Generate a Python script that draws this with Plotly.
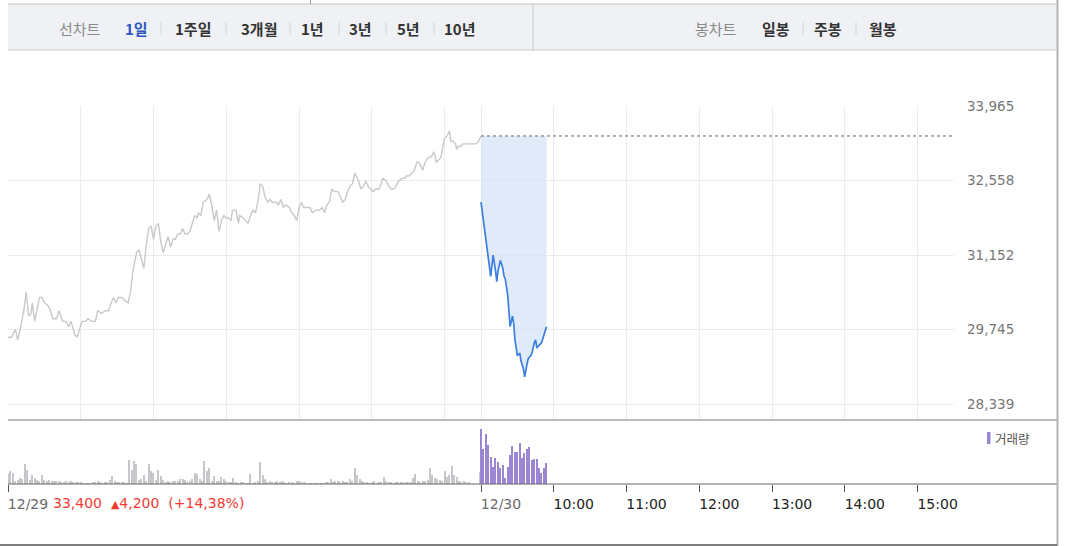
import plotly.graph_objects as go

# ---------------- data ----------------
# 12/29 intraday price (minutes after 09:00, price in KRW)
d1_min = [0, 3, 6, 8, 10, 13, 15, 17, 19, 20, 22, 24, 26, 28, 30, 33, 35, 37, 40, 42,
          45, 48, 50, 52, 53, 55, 57, 59, 61, 64, 66, 69, 72, 74, 77, 80, 83, 85, 87, 89,
          91, 94, 96, 99, 101, 103, 106, 108, 110, 112, 114, 116, 118, 120, 122, 124, 126, 128, 130, 132,
          134, 136, 138, 140, 142, 144, 146, 148, 150, 152, 154, 156, 157, 159, 161, 164, 166, 168, 170, 171,
          172, 174, 176, 178, 180, 182, 184, 185, 188, 190, 191, 194, 196, 198, 200, 202, 204, 206, 208, 210,
          212, 214, 216, 218, 221, 223, 225, 227, 229, 232, 234, 236, 238, 240, 242, 244, 246, 249, 251, 254,
          257, 259, 261, 263, 265, 267, 269, 272, 274, 276, 278, 280, 282, 284, 286, 287, 289, 291, 293, 295,
          297, 299, 301, 303, 306, 307, 309, 312, 314, 316, 318, 320, 322, 325, 327, 329, 331, 333, 335, 337,
          339, 340, 342, 343, 345, 347, 349, 351, 352, 353, 355, 357, 359, 360, 362, 364, 365, 367, 369, 370,
          371, 373, 375, 377, 380, 383, 386, 388, 390]
d1_price = [29600, 29600, 29750, 29550, 29750, 30100, 30450, 30000, 30050, 30250, 29900, 30150, 30350, 30350, 30250, 30200, 30100, 29950, 29950, 30100,
            29900, 29900, 29800, 29900, 29800, 29650, 29600, 29750, 29900, 29900, 29950, 29900, 29900, 30100, 30050, 30100, 30100, 30250, 30350, 30250,
            30350, 30350, 30300, 30250, 30450, 30850, 31200, 31250, 31050, 30900, 31350, 31650, 31700, 31450, 31700, 31750, 31400, 31200, 31350, 31500,
            31300, 31450, 31450, 31550, 31550, 31650, 31550, 31550, 31600, 31750, 31900, 31850, 31950, 31900, 32150, 32200, 32300, 32100, 31800, 31900,
            32000, 31600, 31800, 31900, 31850, 31850, 31800, 32000, 32000, 31750, 31900, 31850, 31800, 31750, 31900, 32000, 31950, 32150, 32500, 32450,
            32250, 32150, 32200, 32150, 32150, 32100, 32200, 32050, 32100, 32050, 31950, 31900, 31800, 32050, 32150, 32050, 32050, 32050, 31950, 32000,
            32000, 32050, 31950, 32100, 32150, 32400, 32350, 32350, 32250, 32150, 32200, 32350, 32450, 32500, 32700, 32650, 32550, 32400, 32450, 32550,
            32450, 32400, 32350, 32400, 32400, 32450, 32600, 32550, 32450, 32400, 32400, 32450, 32550, 32600, 32600, 32650, 32650, 32700, 32750, 32900,
            32900, 32850, 32750, 32850, 32950, 33000, 33000, 33100, 33050, 32900, 32950, 33000, 33250, 33350, 33400, 33500, 33300, 33300, 33250, 33150,
            33200, 33200, 33250, 33250, 33250, 33250, 33250, 33300, 33400]

# 12/30 intraday price (minutes after 09:00)
d2_min = [0, 2, 3, 4, 6, 8, 9, 10, 12, 13, 14, 16, 18, 19, 20, 22, 23, 24, 26, 27,
          28, 30, 32, 33, 35, 36, 38, 39, 41, 42, 44, 45, 46, 48, 50, 52, 54]
d2_price = [32150, 31800, 31550, 31350, 31050, 30750, 30950, 31150, 30850, 30650, 30850, 31050, 30900, 30750, 30700, 30400, 30100, 29800, 30000, 29850,
            29550, 29250, 29300, 29150, 29000, 28850, 29100, 29200, 29250, 29300, 29500, 29550, 29400, 29450, 29500, 29650, 29800]

prev_close = 33400
change = 4200
change_pct = "14,38"

# volume (thousand shares), 12/29 in 2-minute buckets + closing auction
vol_d1_min = list(range(0, 382, 2))
vol_d1 = [10, 12.7, 11, 3.3, 4.3, 6, 5.3, 20, 14.3, 4.3,
          8.7, 6, 4.3, 3.3, 9.3, 4.3, 3.3, 4.3, 3.3, 2.7,
          3.3, 2.7, 2.3, 2, 2.7, 2, 2.7, 1.7, 2, 2.3,
          2, 0.7, 1, 1, 1, 1.7, 1.3, 3.3, 1.3, 1,
          1.3, 1.7, 4.3, 8.3, 3.3, 2, 1.7, 1.3, 1.7, 1,
          24.3, 14.3, 22.7, 20, 4.3, 5.3, 9.3, 3.3, 20, 12.7,
          11, 4.3, 14.3, 7.7, 4.3, 2, 2.7, 1.7, 2.7, 3.3,
          3.3, 5.3, 5.3, 4.3, 2, 3.3, 5.3, 11, 10, 5.3,
          3.3, 22.7, 12.7, 16, 2.7, 7.7, 3.3, 3.3, 6.7, 5.3,
          3.3, 2, 2, 6, 1.3, 1, 1.3, 1.3, 1, 1,
          10, 1, 2, 2.7, 22, 9.3, 5.3, 2, 2.7, 1.3,
          1.7, 3.3, 1.7, 3.3, 2, 1, 2, 1.3, 1, 3.3,
          2.7, 2, 1.3, 0.7, 0.7, 0.7, 1, 0.7, 1, 0.7,
          1, 1.7, 2, 5.3, 2, 2.7, 2.7, 2, 2.7, 1.3,
          1.3, 5.3, 3.3, 16, 8.7, 5.3, 3.3, 2, 1.3, 1,
          1.7, 2.7, 1, 2, 2, 6.7, 2.7, 2, 1.7, 1,
          1.3, 2, 2, 1.3, 2, 2.3, 2, 6, 10, 2.7,
          2, 3.3, 2.7, 4.3, 16, 9.3, 6, 5.3, 4.3, 2.7,
          12.7, 6.7, 9.3, 17.7, 9.3, 6.7, 3.3, 2, 2.7, 2,
          2.3]
close_auction_min = 389
close_auction_vol = 12

vol_d2_min = list(range(0, 56, 2))
vol_d2 = [55, 35, 50, 39, 27, 17, 26, 22, 16, 19, 6, 17, 29, 38, 32, 32, 41, 26, 31, 35,
          37, 24, 25, 25, 16, 11, 16, 21]

y_ticks = [28339, 29745, 31152, 32558, 33965]
x_tick_min = [0, 390, 450, 510, 570, 630, 690, 750]
x_tick_text = ["12/29", "12/30", "10:00", "11:00", "12:00", "13:00", "14:00", "15:00"]
grid_min = [0, 60, 120, 180, 240, 300, 360, 390, 450, 510, 570, 630, 690, 750]
DAY = 390  # trading minutes per day

top_left_items = ["1일", "1주일", "3개월", "1년", "3년", "5년", "10년"]
top_right_items = ["일봉", "주봉", "월봉"]

# ---------------- layout helpers ----------------
W, H = 1071, 546
L, R, T, B = 8, 117, 106, 62
PW, PH = W - L - R, H - T - B


def px(x):
    return (x - L) / PW


def py(y):
    return (H - B - y) / PH


VOL_FRAC = py(420)
NUM_FONT = "DejaVu Sans"
KR_FONT = "Noto Sans CJK KR"

fig = go.Figure()

fig.add_trace(go.Scatter(x=d1_min, y=d1_price, mode="lines",
                         line=dict(color="#c8c8cd", width=1.4), hoverinfo="skip",
                         xaxis="x", yaxis="y"))
fig.add_trace(go.Scatter(x=[DAY + d2_min[0], DAY + d2_min[-1]], y=[prev_close, prev_close],
                         mode="lines", line=dict(width=0), hoverinfo="skip",
                         xaxis="x", yaxis="y"))
fig.add_trace(go.Scatter(x=[DAY + m for m in d2_min], y=d2_price, mode="lines",
                         line=dict(color="#3d7fdf", width=1.7), fill="tonexty",
                         fillcolor="rgba(214,227,246,0.75)", hoverinfo="skip",
                         xaxis="x", yaxis="y"))
fig.add_trace(go.Scatter(x=[DAY, 2 * DAY], y=[prev_close, prev_close], mode="lines",
                         line=dict(color="#666666", width=1, dash="dot"), hoverinfo="skip",
                         xaxis="x", yaxis="y"))

fig.add_trace(go.Bar(x=vol_d1_min + [close_auction_min], y=vol_d1 + [close_auction_vol],
                     width=1.0, marker=dict(color="#c6c6cb", line=dict(width=0)),
                     hoverinfo="skip", xaxis="x2", yaxis="y2"))
fig.add_trace(go.Bar(x=[DAY + m for m in vol_d2_min], y=vol_d2,
                     width=1.1, marker=dict(color="#9a86d2", line=dict(width=0)),
                     hoverinfo="skip", xaxis="x2", yaxis="y2"))

tick_text_html = [f'<span style="color:#6a6a6a">{t}</span>' if "/" in t else t for t in x_tick_text]

fig.update_layout(
    width=W, height=H,
    margin=dict(l=L, r=R, t=T, b=B, pad=0),
    paper_bgcolor="white", plot_bgcolor="white",
    showlegend=False, barmode="overlay", bargap=0,
    xaxis=dict(domain=[0, 1], anchor="y", range=[0, 2 * DAY], tickvals=grid_min,
               showticklabels=False, showgrid=True, gridcolor="#ececec", gridwidth=1,
               zeroline=False, showline=False, ticks=""),
    yaxis=dict(domain=[VOL_FRAC, 1], anchor="x", side="right",
               range=[28037, 33966], tickvals=y_ticks,
               ticktext=[f"{v:,}" for v in y_ticks],
               tickfont=dict(family=NUM_FONT, size=13.5, color="#777777"),
               ticklabelstandoff=12,
               showgrid=True, gridcolor="#ececec", gridwidth=1,
               zeroline=False, showline=False, ticks=""),
    xaxis2=dict(domain=[0, 1], anchor="y2", range=[0, 2 * DAY], tickvals=x_tick_min,
                ticktext=tick_text_html, ticks="outside", ticklen=7, tickwidth=1,
                tickcolor="#555555", tickfont=dict(family=NUM_FONT, size=14, color="#222222"),
                ticklabelshift=20, ticklabelstandoff=0,
                showgrid=False, zeroline=False, showline=False),
    yaxis2=dict(domain=[0, VOL_FRAC], anchor="x2", range=[0, 64], visible=False,
                showgrid=False, zeroline=False),
)

shapes = []
# panel lines
shapes.append(dict(type="line", xref="paper", yref="paper", x0=px(8), x1=px(1057),
                   y0=py(420), y1=py(420), line=dict(color="#a6a6a6", width=1.5)))
shapes.append(dict(type="line", xref="paper", yref="paper", x0=px(8), x1=px(1057),
                   y0=py(484), y1=py(484), line=dict(color="#666666", width=1)))
# page borders
shapes.append(dict(type="line", xref="paper", yref="paper", x0=px(1057.5), x1=px(1057.5),
                   y0=py(0), y1=py(546), line=dict(color="#b4b4b4", width=2)))
shapes.append(dict(type="line", xref="paper", yref="paper", x0=px(0), x1=px(1057),
                   y0=py(545), y1=py(545), line=dict(color="#555555", width=1.5)))
# top menu bar
shapes.append(dict(type="rect", xref="paper", yref="paper", x0=px(8), x1=px(1057),
                   y0=py(50), y1=py(4), fillcolor="#eff1f5", line=dict(width=0), layer="below"))
shapes.append(dict(type="line", xref="paper", yref="paper", x0=px(8), x1=px(1057),
                   y0=py(4), y1=py(4), line=dict(color="#c2c2c2", width=1)))
shapes.append(dict(type="line", xref="paper", yref="paper", x0=px(8), x1=px(1057),
                   y0=py(50), y1=py(50), line=dict(color="#c8c8c8", width=1)))
shapes.append(dict(type="line", xref="paper", yref="paper", x0=px(533), x1=px(533),
                   y0=py(4), y1=py(50), line=dict(color="#c8c8c8", width=1)))
shapes.append(dict(type="line", xref="paper", yref="paper", x0=px(310.5), x1=px(310.5),
                   y0=py(0), y1=py(4), line=dict(color="#a0a0a0", width=1)))
for sx in [161, 226, 290, 339, 386, 434, 803, 856]:
    shapes.append(dict(type="line", xref="paper", yref="paper", x0=px(sx), x1=px(sx),
                       y0=py(22), y1=py(35), line=dict(color="#d6d6d6", width=1)))
# volume legend marker
shapes.append(dict(type="rect", xref="paper", yref="paper", x0=px(987), x1=px(990.5),
                   y0=py(444), y1=py(432), fillcolor="#9a86d2", line=dict(width=0)))
fig.update_layout(shapes=shapes)

ann = []


def label(text, xc, yc, color, size=15, bold=True, xanchor="center", family=KR_FONT):
    ann.append(dict(text=f"<b>{text}</b>" if bold else text, xref="paper", yref="paper",
                    x=px(xc), y=py(yc), xanchor=xanchor, yanchor="middle", showarrow=False,
                    font=dict(family=family, size=size, color=color)))


label("선차트", 80, 28, "#8a8a8a", bold=False)
left_centers = [136, 193, 259, 312, 360, 408, 460]
for i, (t, c) in enumerate(zip(top_left_items, left_centers)):
    label(t, c, 28, "#2d56c2" if i == 0 else "#333333")
label("봉차트", 716, 28, "#8a8a8a", bold=False)
for t, c in zip(top_right_items, [776, 828, 883]):
    label(t, c, 28, "#333333")

label("거래량", 993, 438, "#555555", size=12.5, bold=False, xanchor="left")
red_text = (f"{prev_close:,}&nbsp;&nbsp;<span style=\"font-size:11px\">▲</span>{change:,}"
            f"&nbsp;&nbsp;(+{change_pct}%)")
label(red_text, 51, 503, "#f23a32", size=14, bold=False, xanchor="left", family=NUM_FONT)

fig.update_layout(annotations=ann)

fig.write_html("out.html",
               config={"displayModeBar": False},
               post_script="document.body.style.margin='0';document.body.style.overflow='hidden';")
